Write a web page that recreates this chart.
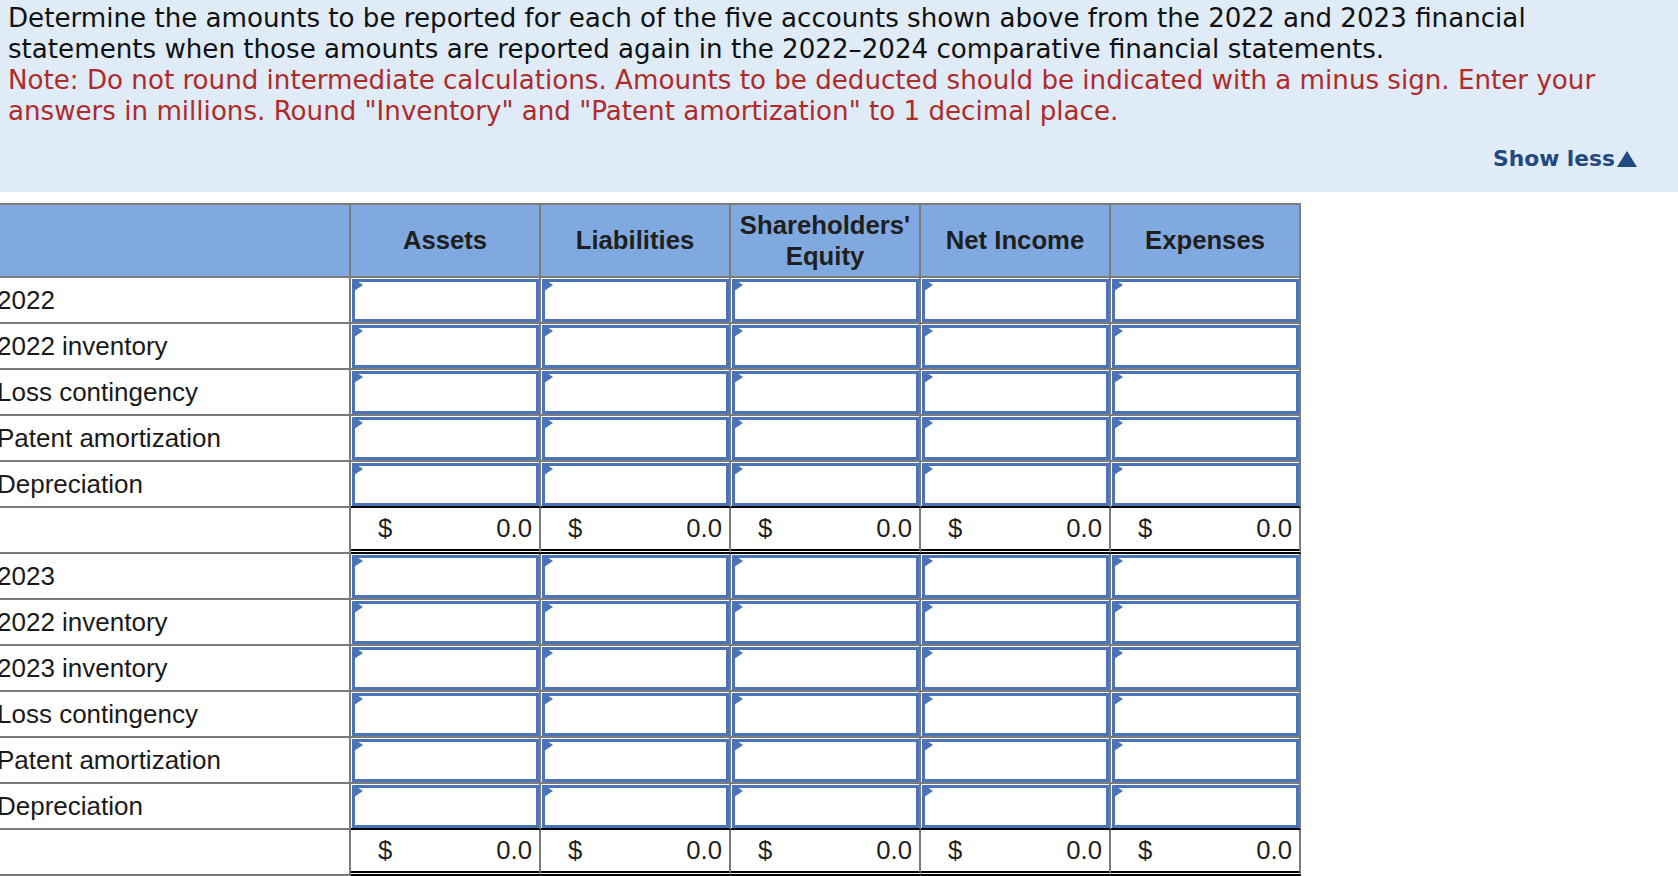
<!DOCTYPE html>
<html>
<head>
<meta charset="utf-8">
<script src="https://cdn.jsdelivr.net/npm/chart.js@4.4.1/dist/chart.umd.min.js"></script>
<style>
  html, body { margin: 0; padding: 0; }
  body { width: 1678px; height: 876px; overflow: hidden; background: #ffffff; position: relative; font-family: "Liberation Sans", Arial, sans-serif; }
  .band { position: absolute; left: 0; top: 0; width: 1678px; height: 192px; background: #dfebf7; }
  .instr { position: absolute; left: 8px; top: 3px; font-family: "DejaVu Sans", Verdana, sans-serif; white-space: nowrap; }
  .instr div { height: 31px; line-height: 31px; }
  .instr .k { color: #111111; }
  .instr .r { color: #b02a2a; }
  .show { position: absolute; top: 146px; right: 41px; height: 26px; line-height: 26px; font-family: "DejaVu Sans", Verdana, sans-serif; font-weight: bold; color: #21497f; white-space: nowrap; }
  .show .tri { display: inline-block; width: 0; height: 0; border-left: 10px solid transparent; border-right: 10px solid transparent; border-bottom: 16px solid #21497f; vertical-align: -1px; margin-left: 2px; }
  .grid { position: absolute; left: 0; top: 203px; display: grid; grid-template-columns: 351px repeat(5, 190px); grid-template-rows: 73px repeat(13, 46px); border-top: 2px solid #7b7b7b; }
  .c { position: relative; box-sizing: border-box; border-bottom: 2px solid #7b7b7b; border-right: 2px solid #7b7b7b; }
  .lab { border-right: 2px solid #7b7b7b; font-size: 26px; color: #1a1a1a; display: flex; align-items: center; padding-left: 0; text-indent: -3px; white-space: nowrap; overflow: hidden; }
  .hd { background: #80aadf; font-weight: bold; font-size: 25.7px; color: #1f1f1f; display: flex; align-items: center; justify-content: center; text-align: center; line-height: 31px; }
  .box { position: absolute; left: 1px; right: 0; top: 1px; bottom: 0; border: 3px solid #4a74b7; }
  .box::before { content: ""; position: absolute; left: -1px; top: -3px; width: 0; height: 0; border-left: 9px solid #4a74b7; border-top: 6px solid transparent; border-bottom: 6px solid transparent; }
  .aboveTot { border-bottom-color: #000000; border-bottom-width: 2px; }
  .tot { border-bottom: 5px double #000000; font-size: 25.7px; color: #1f1f1f; }
  .tot .d { position: absolute; left: 27px; top: 0; bottom: 0; display: flex; align-items: center; }
  .tot .v { position: absolute; right: 7px; top: 0; bottom: 0; display: flex; align-items: center; }
</style>
</head>
<body>
<div class="band"></div>
<div class="instr" id="instr"></div>
<div class="show" id="show"></div>
<div class="grid" id="grid"></div>
<script>
// ----- data -----
const instructionLines = [
  "Determine the amounts to be reported for each of the five accounts shown above from the 2022 and 2023 financial",
  "statements when those amounts are reported again in the 2022\u20132024 comparative financial statements."
];
const noteLines = [
  "Note: Do not round intermediate calculations. Amounts to be deducted should be indicated with a minus sign. Enter your",
  "answers in millions. Round \"Inventory\" and \"Patent amortization\" to 1 decimal place."
];
const toggleLabel = "Show less";
const columns = ["Assets", "Liabilities", "Shareholders'\nEquity", "Net Income", "Expenses"];
const rows2022 = ["2022", "2022 inventory", "Loss contingency", "Patent amortization", "Depreciation"];
const rows2023 = ["2023", "2022 inventory", "2023 inventory", "Loss contingency", "Patent amortization", "Depreciation"];
const totals2022 = [0.0, 0.0, 0.0, 0.0, 0.0];
const totals2023 = [0.0, 0.0, 0.0, 0.0, 0.0];
const currency = "$";

// ----- instructions -----
const instr = document.getElementById('instr');
instructionLines.forEach(t => { const d = document.createElement('div'); d.className = 'k'; d.textContent = t; instr.appendChild(d); });
noteLines.forEach(t => { const d = document.createElement('div'); d.className = 'r'; d.textContent = t; instr.appendChild(d); });
const cv = document.createElement('canvas').getContext('2d');
cv.font = '100px "DejaVu Sans"';
const w1 = cv.measureText(instructionLines[0]).width;
instr.style.fontSize = (100 * 1518 / w1).toFixed(2) + 'px';
const show = document.getElementById('show');
cv.font = 'bold 100px "DejaVu Sans"';
const ws = cv.measureText(toggleLabel).width;
show.style.fontSize = (100 * 122 / ws).toFixed(2) + 'px';
show.innerHTML = '';
show.appendChild(document.createTextNode(toggleLabel));
const tri = document.createElement('span'); tri.className = 'tri'; show.appendChild(tri);

// ----- table -----
const grid = document.getElementById('grid');
function cell(cls, html) { const d = document.createElement('div'); d.className = 'c ' + cls; if (html !== undefined) d.innerHTML = html; grid.appendChild(d); return d; }
cell('hd lab', '');
columns.forEach(c => cell('hd', c.replace('\n', '<br>')));
function block(labels, totals) {
  labels.forEach((l, i) => {
    const last = i === labels.length - 1;
    const lc = cell('lab'); lc.textContent = l;
    columns.forEach(() => { const d = cell(last ? 'aboveTot' : ''); const b = document.createElement('div'); b.className = 'box'; d.appendChild(b); });
  });
  cell('lab');
  totals.forEach(v => {
    const d = cell('tot');
    d.innerHTML = '<span class="d">' + currency + '</span><span class="v">' + v.toFixed(1) + '</span>';
  });
}
block(rows2022, totals2022);
block(rows2023, totals2023);
</script>
</body>
</html>
